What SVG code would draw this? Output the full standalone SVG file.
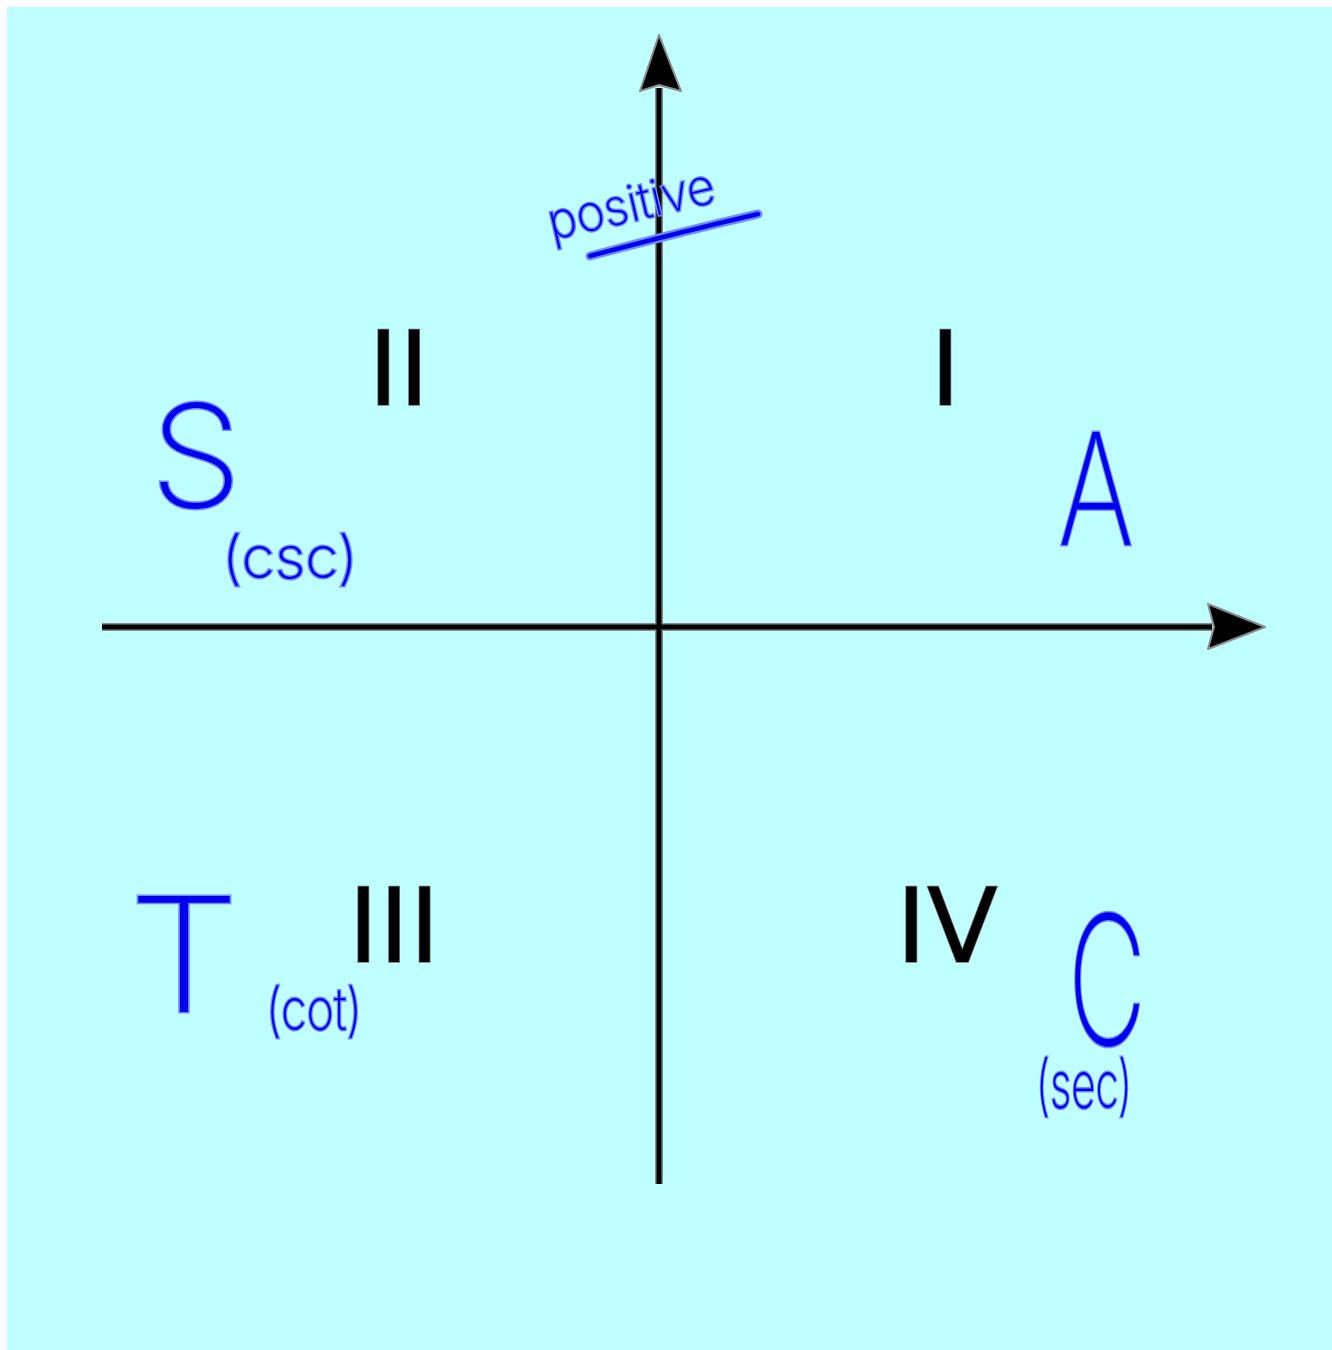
<svg xmlns="http://www.w3.org/2000/svg" width="1332" height="1350" viewBox="0 0 1332 1350">
<style>
.ax{stroke:#000;stroke-width:5;fill:none;stroke-linecap:butt}
.axh{stroke:#8a8a8a;stroke-width:8;fill:none}
.head{fill:#000;stroke:#8a8a8a;stroke-width:2;stroke-linejoin:round}
.num{font-family:"DejaVu Sans",sans-serif;font-size:104px;fill:#000;stroke:#777;stroke-width:1.5;paint-order:stroke}
.hw{font-family:Inter,"Noto Sans",sans-serif;font-weight:200;fill:#0000ee;stroke:#6f8cff;stroke-width:3;paint-order:stroke;lengthAdjust:spacingAndGlyphs}
.ul{stroke:#6f8cff;stroke-width:9;fill:none;stroke-linecap:round}
.ulc{stroke:#0000ee;stroke-width:4.5;fill:none;stroke-linecap:round}
</style>
<rect x="7" y="7" width="1325" height="1343" fill="#bfffff"/>
<g id="axes">
<line class="axh" x1="102" y1="627" x2="1212" y2="627"/>
<line class="axh" x1="659" y1="88" x2="659" y2="1184"/>
<line class="ax" x1="102" y1="627" x2="1212" y2="627"/>
<line class="ax" x1="659" y1="88" x2="659" y2="1184"/>
<polygon class="head" points="1265,627 1208,604 1214,627 1208,649"/>
<polygon class="head" points="659,35 640,91 659,85 681,91"/>
</g>
<g id="quadrants">
<text class="num" x="368" y="405">II</text>
<text class="num" x="930" y="405">I</text>
<text class="num" x="348" y="962">III</text>
<text class="num" x="896" y="962">IV</text>
</g>
<g id="labels">
<text class="hw" x="552" y="240" font-size="50" textLength="170" lengthAdjust="spacingAndGlyphs" transform="rotate(-13 552 240)">positive</text>
<path class="ul" d="M590,256 Q680,232 758,214"/>
<path class="ulc" d="M590,256 Q680,232 758,214"/>
<text class="hw" x="150" y="507" font-size="142" textLength="92" lengthAdjust="spacingAndGlyphs">S</text>
<text class="hw" x="222" y="578" font-size="58" textLength="136" lengthAdjust="spacingAndGlyphs">(csc)</text>
<text class="hw" x="1058" y="545" font-size="155" textLength="76" lengthAdjust="spacingAndGlyphs">A</text>
<text class="hw" x="128" y="1012" font-size="160" textLength="112" lengthAdjust="spacingAndGlyphs">T</text>
<text class="hw" x="266" y="1030" font-size="58" textLength="96" lengthAdjust="spacingAndGlyphs">(cot)</text>
<text class="hw" x="1068" y="1045" font-size="180" textLength="78" lengthAdjust="spacingAndGlyphs">C</text>
<text class="hw" x="1036" y="1108" font-size="66" textLength="96" lengthAdjust="spacingAndGlyphs">(sec)</text>
</g>
</svg>
